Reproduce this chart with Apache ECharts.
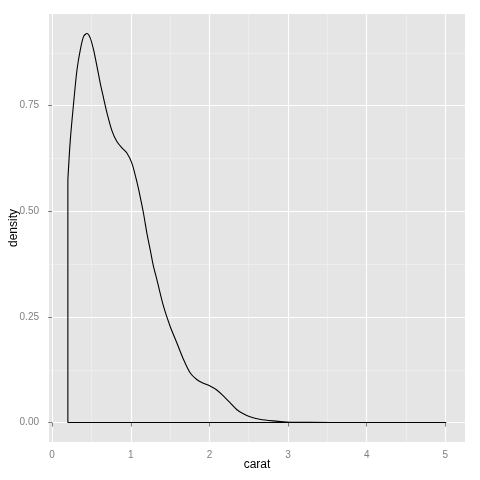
<!DOCTYPE html>
<html>
<head>
<meta charset="utf-8">
<script src="https://cdn.jsdelivr.net/npm/echarts@6/dist/echarts.min.js"></script>
<style>html,body{margin:0;padding:0;background:#fff}#c{width:480px;height:480px}</style>
</head>
<body>
<div id="c"></div>
<script>
var caratX = [0.2,0.2,0.231,0.273,0.316,0.358,0.40,0.443,0.485,0.527,0.570,0.612,0.654,0.697,0.760,0.823,0.887,0.950,1.014,1.077,1.119,1.161,1.204,1.246,1.288,1.331,1.415,1.5,1.585,1.669,1.754,1.839,1.923,2.008,2.093,2.177,2.262,2.346,2.431,2.515,2.64,2.81,2.98,3.3,3.8,5.01,0.2];
var densityY = [0,0.575,0.669,0.756,0.835,0.882,0.914,0.921,0.910,0.882,0.843,0.803,0.768,0.733,0.691,0.665,0.650,0.638,0.614,0.570,0.535,0.496,0.449,0.410,0.370,0.339,0.276,0.228,0.189,0.150,0.118,0.102,0.093,0.0865,0.077,0.063,0.047,0.031,0.021,0.014,0.008,0.004,0.0015,0.0004,0.0001,0,0];
var xTicks = [0,1,2,3,4,5];
var xMinor = [0.5,1.5,2.5,3.5,4.5];
var yTicks = [0,0.25,0.5,0.75];
var yMinor = [0.125,0.375,0.625,0.875];
var xRange = [-0.04, 5.25];
var yRange = [-0.046, 0.967];

var pts = caratX.map(function(x,i){return [x, densityY[i]];});
var n = pts.length;
var curvePts = pts.slice(1, n - 1);           // density curve
var outlinePts = [pts[1], pts[0], pts[n - 2]]; // vertical edge + baseline
var font = 'Liberation Sans, Arial, Helvetica, sans-serif';
function fmtY(v){ return v.toFixed(2); }

var chart = echarts.init(document.getElementById('c'), null, {renderer:'canvas'});
chart.setOption({
  animation:false,
  backgroundColor:'#ffffff',
  grid:{left:49, right:15, top:14, bottom:38, show:true, backgroundColor:'#E5E5E5', borderWidth:0, containLabel:false, outerBoundsMode:'none'},
  xAxis:[{
    type:'value', min:xRange[0], max:xRange[1],
    name:'carat', nameLocation:'middle', nameGap:17, nameMoveOverlap:false,
    nameTextStyle:{color:'#000', fontSize:12, fontFamily:font},
    axisLine:{show:false},
    axisTick:{show:true, length:4, lineStyle:{color:'#7F7F7F'}, customValues:xTicks},
    axisLabel:{color:'#7F7F7F', fontSize:10, fontFamily:font, margin:8, customValues:xTicks, formatter:function(v){return String(v);}},
    splitLine:{show:true, lineStyle:{color:'#FFFFFF', width:1.1}}
  },{
    type:'value', min:xRange[0], max:xRange[1], position:'bottom',
    axisLine:{show:false}, axisLabel:{show:false, customValues:xMinor},
    axisTick:{show:false, customValues:xMinor},
    splitLine:{show:true, lineStyle:{color:'#F2F2F2', width:0.6}}
  }],
  yAxis:[{
    type:'value', min:yRange[0], max:yRange[1],
    name:'density', nameLocation:'middle', nameGap:29, nameRotate:90, nameMoveOverlap:false,
    nameTextStyle:{color:'#000', fontSize:12, fontFamily:font},
    axisLine:{show:false},
    axisTick:{show:true, length:4, lineStyle:{color:'#7F7F7F'}, customValues:yTicks},
    axisLabel:{color:'#7F7F7F', fontSize:10, fontFamily:font, margin:10, customValues:yTicks, formatter:fmtY},
    splitLine:{show:true, lineStyle:{color:'#FFFFFF', width:1.1}}
  },{
    type:'value', min:yRange[0], max:yRange[1], position:'left',
    axisLine:{show:false}, axisLabel:{show:false, customValues:yMinor},
    axisTick:{show:false, customValues:yMinor},
    splitLine:{show:true, lineStyle:{color:'#F2F2F2', width:0.6}}
  }],
  series:[{
    type:'line', xAxisIndex:0, yAxisIndex:0, data:curvePts,
    showSymbol:false, smooth:0.3,
    lineStyle:{color:'#000', width:1.1}, z:10
  },{
    type:'line', xAxisIndex:0, yAxisIndex:0, data:outlinePts,
    showSymbol:false, smooth:false,
    lineStyle:{color:'#000', width:1.1}, z:10
  }]
});
</script>
</body>
</html>
